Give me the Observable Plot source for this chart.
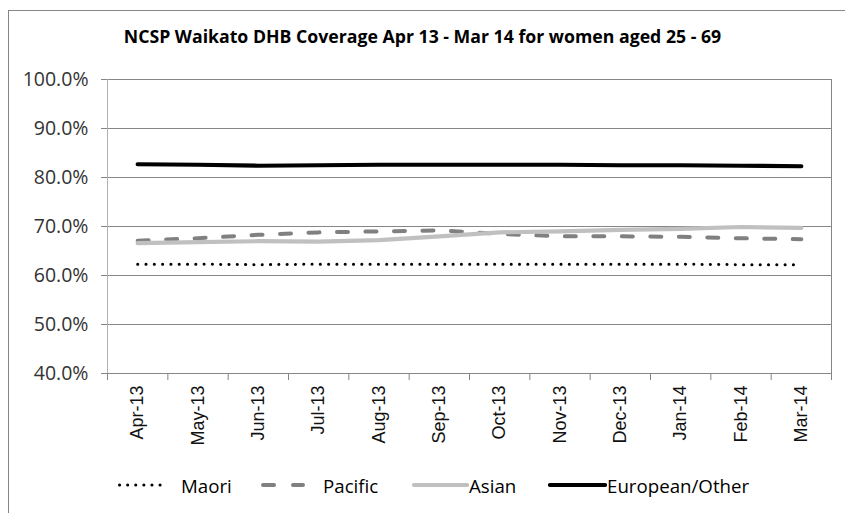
<!DOCTYPE html>
<html>
<head>
<meta charset="utf-8">
<script src="https://cdn.jsdelivr.net/npm/d3@7"></script>
<script src="https://cdn.jsdelivr.net/npm/@observablehq/plot@0.6"></script>
<style>
  html, body { margin: 0; padding: 0; background: #fff; }
  #wrap { position: relative; width: 845px; height: 513px; overflow: hidden; font-family: "Open Sans", sans-serif; }
  #border { position: absolute; left: 8px; top: 10px; width: 850px; height: 520px; border: 1px solid #868686; box-sizing: border-box; }
  #title { position: absolute; left: 0; width: 845px; top: 24px; text-align: center; font-weight: bold; font-size: 17.7px; color: #000; white-space: nowrap; }
  #chart { position: absolute; left: 0; top: 0; }
  .leg { position: absolute; top: 472px; height: 26px; display: flex; align-items: center; font-size: 18.7px; color: #000; white-space: nowrap; }
</style>
</head>
<body>
<div id="wrap">
  <div id="border"></div>
  <div id="chart"></div>
  <div id="title">NCSP Waikato DHB Coverage Apr 13 - Mar 14 for women aged 25 - 69</div>
  <div id="legend"></div>
</div>
<script>
const months = ["Apr-13","May-13","Jun-13","Jul-13","Aug-13","Sep-13","Oct-13","Nov-13","Dec-13","Jan-14","Feb-14","Mar-14"];
const maori    = [62.3, 62.3, 62.2, 62.3, 62.3, 62.3, 62.3, 62.3, 62.3, 62.3, 62.2, 62.2];
const pacific  = [67.1, 67.6, 68.3, 68.8, 69.0, 69.2, 68.5, 68.0, 68.0, 67.9, 67.6, 67.4];
const asian    = [66.6, 66.8, 67.0, 66.9, 67.2, 68.0, 68.8, 69.0, 69.3, 69.5, 69.9, 69.7];
const european = [82.7, 82.6, 82.4, 82.5, 82.6, 82.6, 82.6, 82.6, 82.5, 82.5, 82.4, 82.3];
const yTicks = [40, 50, 60, 70, 80, 90, 100];
const seriesNames = ["Maori", "Pacific", "Asian", "European/Other"];

const idx = months.map((_, i) => i);
const bounds = months.map((_, i) => i - 0.5).concat([months.length - 0.5]);
const rows = (vals) => vals.map((v, i) => ({i, v}));

const styles = {
  "Maori":          {stroke: "#000000", strokeWidth: 3, strokeDasharray: "0.1,8.2", strokeLinecap: "round"},
  "Pacific":        {stroke: "#808080", strokeWidth: 4, strokeDasharray: "11,17.5", strokeLinecap: "round"},
  "Asian":          {stroke: "#c0c0c0", strokeWidth: 4.2, strokeLinecap: "round"},
  "European/Other": {stroke: "#000000", strokeWidth: 4.2, strokeLinecap: "round"}
};
const data = [maori, pacific, asian, european];

const chart = Plot.plot({
  width: 845,
  height: 470,
  marginLeft: 107,
  marginRight: 14,
  marginTop: 79,
  marginBottom: 97,
  style: {background: "transparent", fontFamily: "'Open Sans', sans-serif"},
  x: {type: "linear", domain: [-0.5, months.length - 0.5], label: null},
  y: {domain: [40, 100], label: null},
  marks: [
    Plot.gridY(yTicks, {stroke: "#868686", strokeOpacity: 1}),
    Plot.frame({stroke: "#868686"}),
    Plot.ruleX([-0.5], {stroke: "#b0b0b0"}),
    Plot.axisY(yTicks, {label: null, tickSize: 6, tickPadding: 13, tickFormat: d => d.toFixed(1) + "%", fontSize: 19.5, fill: "#333", stroke: "#868686"}),
    Plot.axisX(bounds, {label: null, tickSize: 7, tickFormat: () => "", stroke: "#868686"}),
    Plot.axisX(idx, {label: null, tickSize: 0, tickRotate: -90, tickPadding: 12, tickFormat: i => months[i], fontSize: 18, fontFamily: "'Liberation Sans', Arial, sans-serif", fill: "#111"}),
    ...data.map((vals, k) => Plot.line(rows(vals), {x: "i", y: "v", ...styles[seriesNames[k]]}))
  ]
});
document.getElementById("chart").appendChild(chart);

// legend: swatch start x, swatch width, text start x
const legendPos = [
  {x: 118, w: 50, tx: 181},
  {x: 261, w: 44, tx: 323},
  {x: 412, w: 57, tx: 469},
  {x: 548, w: 59, tx: 607}
];
const legend = document.getElementById("legend");
seriesNames.forEach((name, k) => {
  const s = styles[name];
  const p = legendPos[k];
  const item = document.createElement("div");
  item.className = "leg";
  item.style.left = p.x + "px";
  const round = s.strokeLinecap === "round";
  const pad = (k === 0) ? 1.5 : (round ? 2 : 0);
  const dash = k === 0 ? "0.1,8" : (k === 1 ? "11,19" : "");
  item.innerHTML = `<svg width="${p.tx - p.x}" height="10" style="display:block"><line x1="${pad}" x2="${p.w - pad}" y1="5" y2="5" stroke="${s.stroke}" stroke-width="${s.strokeWidth}" ${dash ? `stroke-dasharray="${dash}"` : ""} stroke-linecap="${s.strokeLinecap}"/></svg><span>${name}</span>`;
  legend.appendChild(item);
});
</script>
</body>
</html>
